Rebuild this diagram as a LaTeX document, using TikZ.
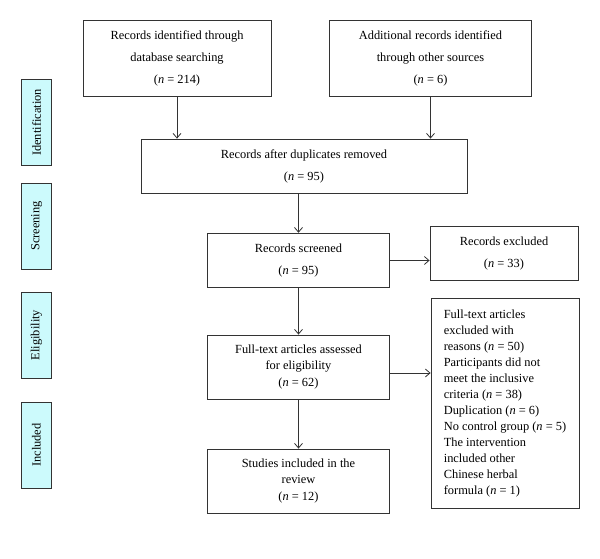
\documentclass[tikz,border=0pt]{standalone}
\usepackage{fontspec}
\setmainfont{Liberation Serif}
\usepackage{tikz}
\usetikzlibrary{arrows.meta}

\definecolor{phasecyan}{RGB}{204,250,252}
\newcommand{\nval}[1]{(\textit{n} = #1)}

\tikzset{
  flowbox/.style={draw=black!80, line width=0.6pt, align=center,
    font=\fontsize{9.3}{16.5}\selectfont, inner sep=2pt},
  phasebox/.style={draw=black!80, line width=0.6pt, fill=phasecyan,
    rotate=90, font=\fontsize{9.3}{11}\selectfont, inner sep=0pt,
    minimum height=23pt},
  flowarrow/.style={-{Straight Barb[length=3.5pt,width=6pt]}, line width=0.6pt, black!80}
}

\begin{document}
\begin{tikzpicture}[x=0.75pt,y=-0.75pt]
    \useasboundingbox (0,0) rectangle (600,559);
    % phases
    \node[phasebox, minimum width=65pt] (ident) at (36.5,122.5) {Identification};
    \node[phasebox, minimum width=64.5pt] (screen) at (36.5,226) {Screening};
    \node[phasebox, minimum width=64.5pt] (elig) at (36.5,335) {Eligibility};
    \node[phasebox, minimum width=64.5pt] (incl) at (36.5,445) {Included};
    % boxes
    \node[flowbox, minimum width=141pt, minimum height=57pt] (dbsearch) at (177,58)
        {Records identified through\\ database searching\\ \nval{214}};
    \node[flowbox, minimum width=152pt, minimum height=57pt] (othersrc) at (430.5,58)
        {Additional records identified\\ through other sources\\ \nval{6}};
    \node[flowbox, minimum width=244.5pt, minimum height=40.5pt] (dupl) at (304,166)
        {Records after duplicates removed\\ \nval{95}};
    \node[flowbox, minimum width=137pt, minimum height=41pt] (screened) at (298.5,260.5)
        {Records screened\\ \nval{95}};
    \node[flowbox, minimum width=111pt, minimum height=40pt] (excl) at (504,253.5)
        {Records excluded\\ \nval{33}};
    \node[flowbox, minimum width=137pt, minimum height=48pt,
          font=\fontsize{9.3}{12.5}\selectfont] (fulltext) at (298.5,367)
        {Full-text articles assessed\\ for eligibility\\ \nval{62}};
    \node[flowbox, minimum width=111pt, minimum height=157pt, align=left,
          font=\fontsize{9.3}{12}\selectfont, inner sep=6pt] (reasons) at (505,403.5)
        {Full-text articles\\ excluded with\\ reasons \nval{50}\\ Participants did not\\
         meet the inclusive\\ criteria \nval{38}\\ Duplication \nval{6}\\
         No control group \nval{5}\\ The intervention\\ included other\\
         Chinese herbal\\ formula \nval{1}};
    \node[flowbox, minimum width=137pt, minimum height=48pt,
          font=\fontsize{9.3}{12.5}\selectfont] (included) at (298.5,481)
        {Studies included in the\\ review\\ \nval{12}};
    % arrows
    \draw[flowarrow] (dbsearch.south) -- (dbsearch.south |- dupl.north);
    \draw[flowarrow] (othersrc.south) -- (othersrc.south |- dupl.north);
    \draw[flowarrow] (screened.north |- dupl.south) -- (screened.north);
    \draw[flowarrow] (screened.east) -- (screened.east -| excl.west);
    \draw[flowarrow] (screened.south) -- (fulltext.north);
    \coordinate (ftout) at ([yshift=-4.5pt]fulltext.east);
    \draw[flowarrow] (ftout) -- (ftout -| reasons.west);
    \draw[flowarrow] (fulltext.south) -- (included.north);
\end{tikzpicture}
\end{document}
